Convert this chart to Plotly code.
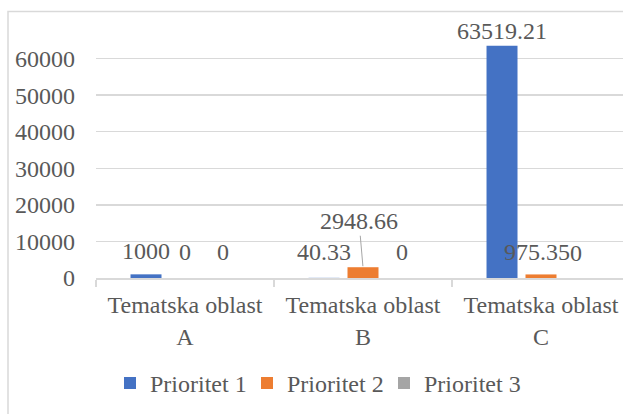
import plotly.graph_objects as go

categories = ["Tematska oblast<br>A", "Tematska oblast<br>B", "Tematska oblast<br>C"]
series_names = ["Prioritet 1", "Prioritet 2", "Prioritet 3"]
prioritet_1 = [1000, 40.33, 63519.21]
prioritet_2 = [0, 2948.66, 975.35]
prioritet_3 = [0, 0, 0]
y_ticks = [0, 10000, 20000, 30000, 40000, 50000, 60000]

series_values = [prioritet_1, prioritet_2, prioritet_3]
colors = ["#4472c4", "#ed7d31", "#a5a5a5"]

FONT = "Liberation Serif, Times New Roman, serif"
TXT = "#595959"
GRID = "#d9d9d9"
FS = 24

W, H = 623, 414
left, right_px = 96, 623
top, bottom = 21.6, 278.3
cat_px = 178.0
x_max = -0.5 + (right_px - left) / cat_px

# label placement (pixel offsets, style only)
slot_shift = [-39, 0, 39]
label_yshift = [
    [23, 26, 15],   # Prioritet 1 labels for A, B, C
    [26, 0, 22],    # Prioritet 2
    [26, 26, 25],   # Prioritet 3
]
label_xshift = [
    [0, 0, 0],
    [0, 0, -4],
    [-1, 0, -4],
]


def fmt(v):
    if float(v).is_integer():
        return str(int(v))
    return ("%.2f" % v).rstrip("0").rstrip(".")


fig = go.Figure()
for name, vals, col in zip(series_names, series_values, colors):
    fig.add_trace(go.Bar(name=name, x=categories, y=vals, marker=dict(color=col, line=dict(width=0)),
                         hoverinfo="skip"))

annotations = []
for si, vals in enumerate(series_values):
    for ci, v in enumerate(vals):
        if si == 1 and ci == 1:
            annotations.append(dict(
                x=categories[ci], y=v, xref="x", yref="y", text=fmt(v),
                xshift=slot_shift[si], showarrow=True, arrowhead=0, arrowwidth=1,
                arrowcolor="#a6a6a6", ax=-4, ay=-46, standoff=1,
                font=dict(family=FONT, size=FS, color=TXT)))
        else:
            annotations.append(dict(
                x=categories[ci], y=v, xref="x", yref="y", text=fmt(v),
                xshift=slot_shift[si] + label_xshift[si][ci], yshift=label_yshift[si][ci],
                yanchor="middle", showarrow=False,
                font=dict(family=FONT, size=FS, color=TXT)))

plot_h = bottom - top
plot_w = right_px - left
border_x0 = (8 - left) / plot_w
border_y1 = 1 + (top - 11) / plot_h

fig.update_layout(
    width=W, height=H,
    margin=dict(l=left, r=W - right_px, t=top, b=H - bottom, pad=0, autoexpand=False),
    paper_bgcolor="white", plot_bgcolor="white",
    barmode="group", bargap=0.343, bargroupgap=0.205,
    font=dict(family=FONT, size=FS, color=TXT),
    showlegend=True,
    legend=dict(orientation="h", x=(110 - left) / plot_w, xanchor="left",
                y=(278.3 - 384) / plot_h, yanchor="middle",
                entrywidth=92, entrywidthmode="pixels", itemwidth=30,
                font=dict(family=FONT, size=FS, color=TXT), bgcolor="rgba(0,0,0,0)",
                traceorder="normal"),
    annotations=annotations,
    shapes=[dict(type="rect", xref="paper", yref="paper", x0=border_x0, x1=1.2, y0=-1.0, y1=border_y1,
                 line=dict(color=GRID, width=1.5), fillcolor="rgba(0,0,0,0)", layer="below")],
    xaxis=dict(type="category", range=[-0.5, x_max], showgrid=False, zeroline=False,
               showline=True, linecolor=GRID, linewidth=1.5,
               ticks="outside", tickson="boundaries", ticklen=7, tickcolor=GRID, tickwidth=1.5,
               tickfont=dict(family=FONT, size=FS, color=TXT), ticklabelstandoff=5),
    yaxis=dict(range=[0, 70000], tickvals=y_ticks, ticktext=[str(t) for t in y_ticks],
               showgrid=True, gridcolor=GRID, gridwidth=1.5, zeroline=False, showline=False,
               ticks="", tickfont=dict(family=FONT, size=FS, color=TXT), ticklabelstandoff=20),
    hovermode=False,
)

fig.write_html(
    "out.html",
    config={"displayModeBar": False, "staticPlot": True},
    post_script="document.body.style.margin='0';document.body.style.overflow='hidden';",
)
